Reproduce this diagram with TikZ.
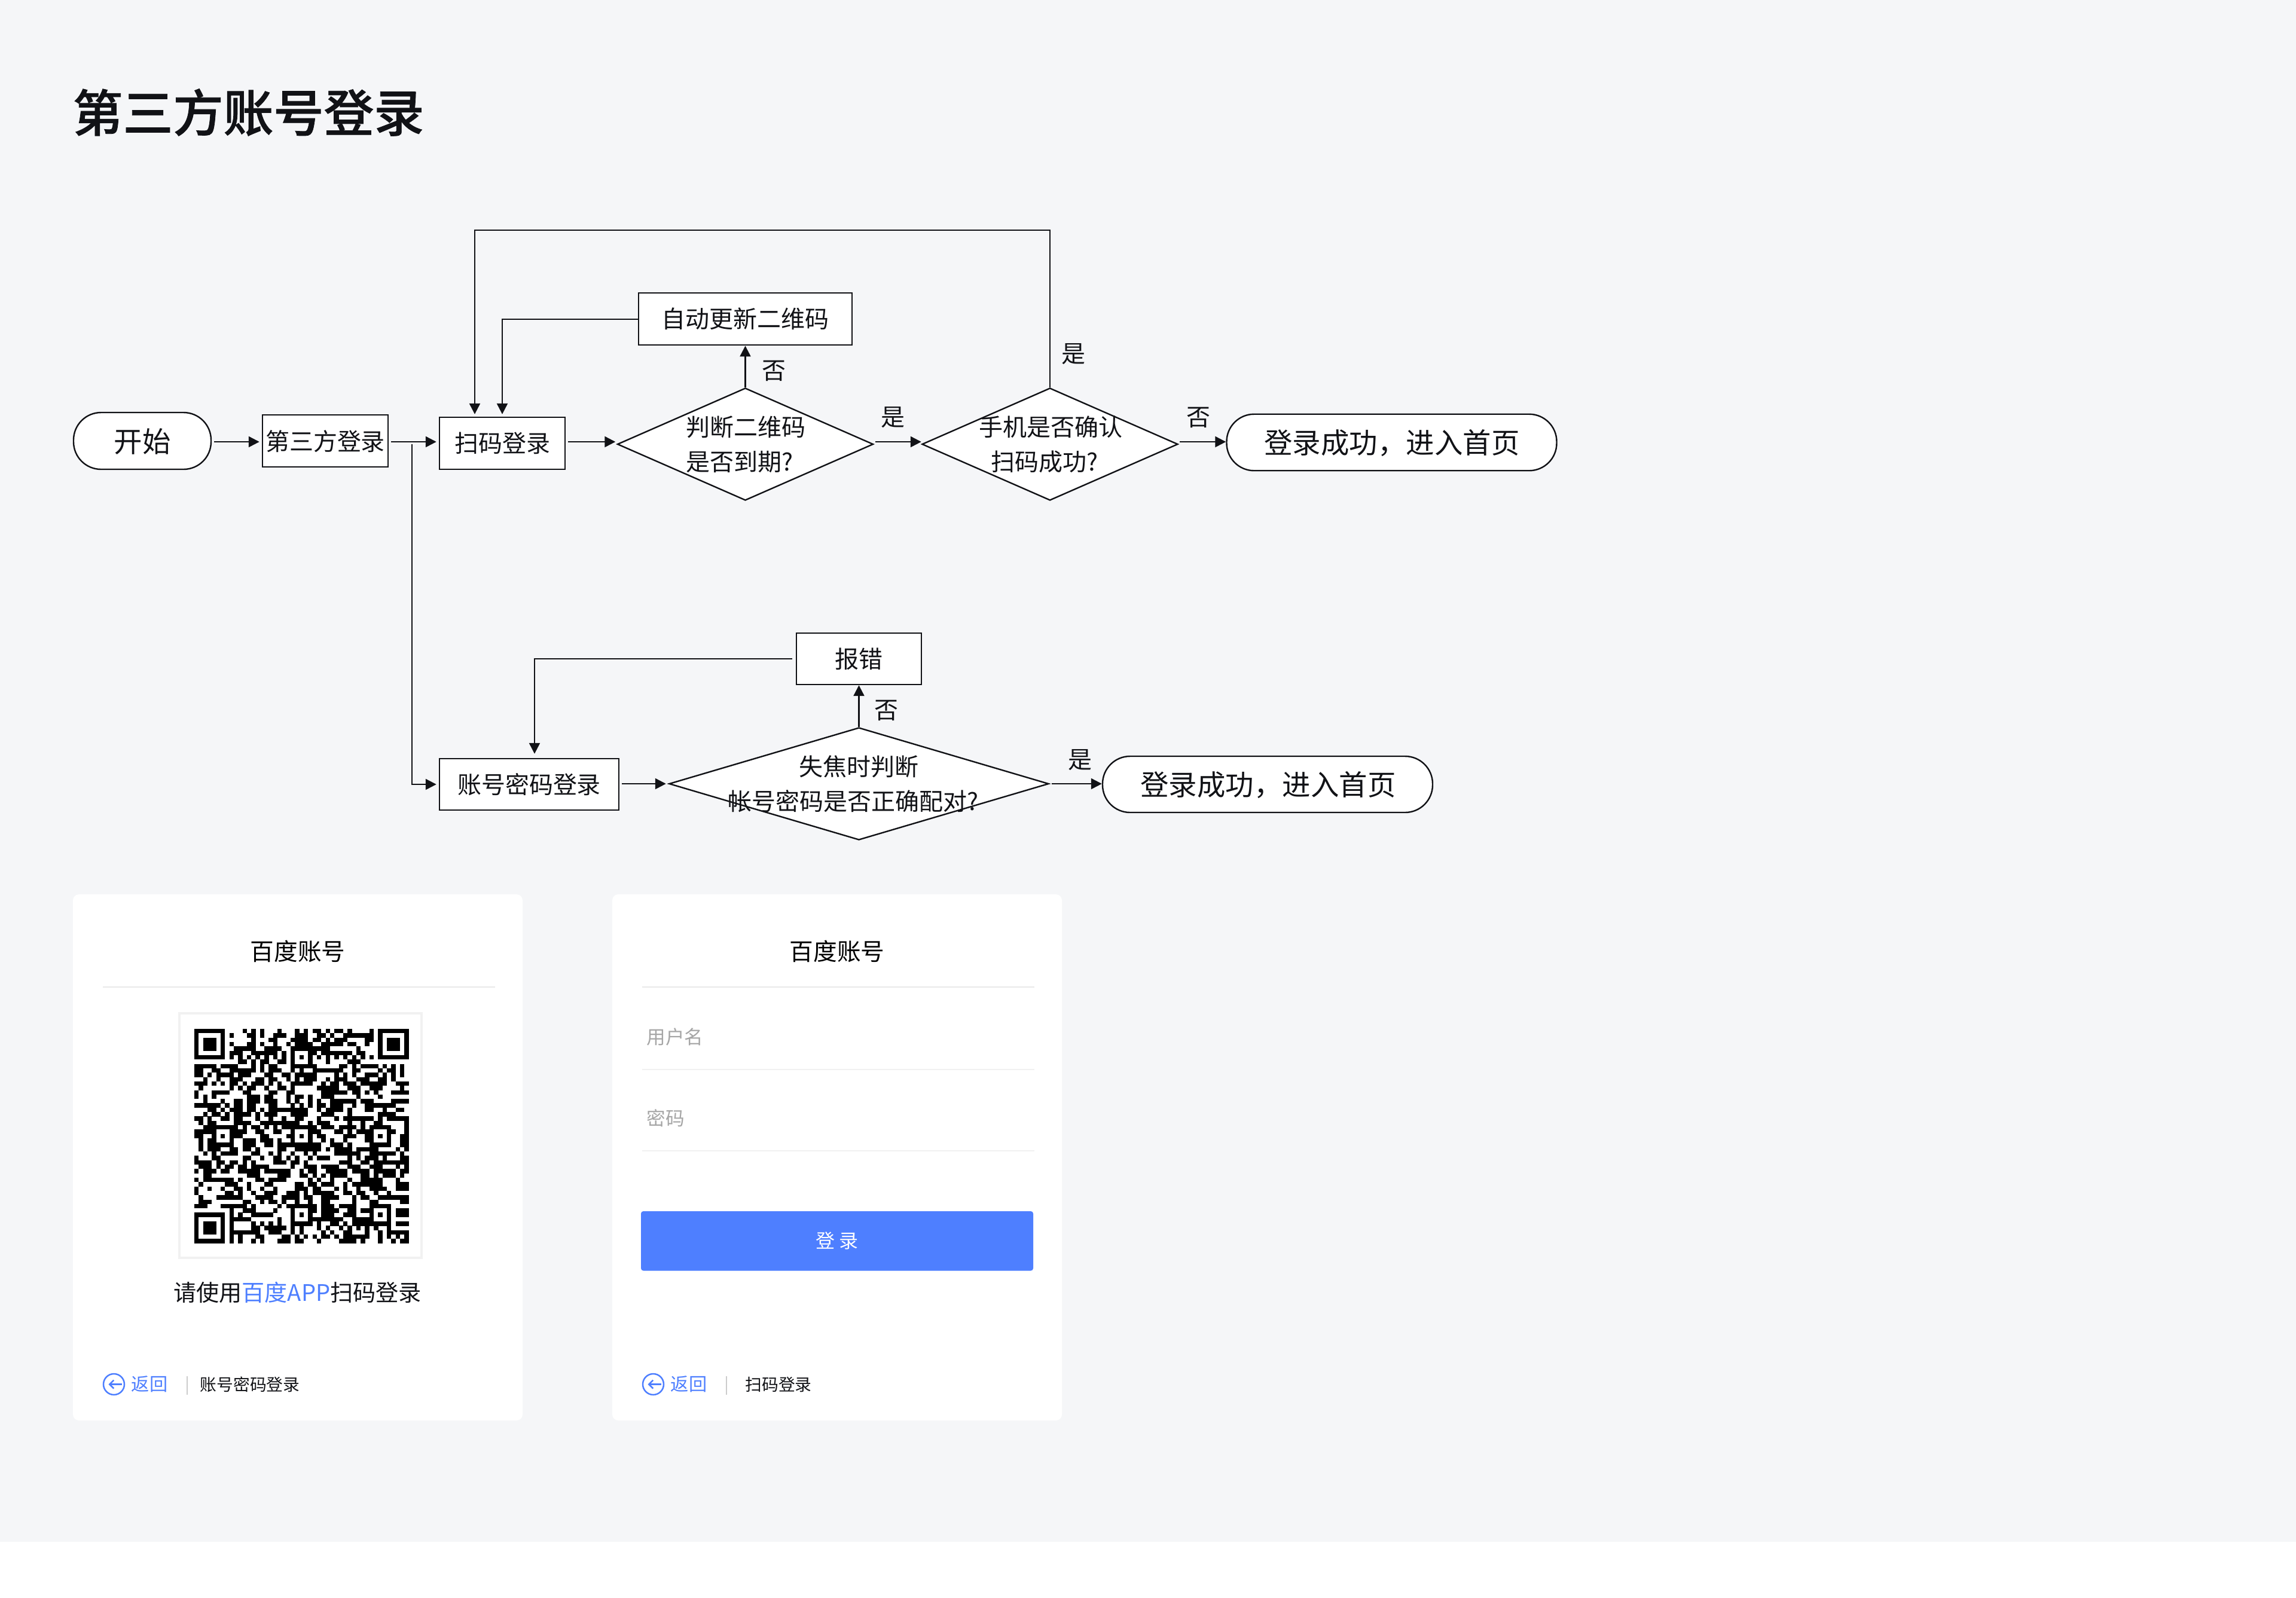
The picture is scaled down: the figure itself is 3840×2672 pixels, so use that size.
\documentclass[tikz,border=0pt]{standalone}
\usepackage{fontspec}
\setmainfont{Noto Sans CJK SC}
\newfontfamily\titlefont[UprightFont=* Medium,UprightFeatures={FakeBold=0.9}]{Noto Sans CJK SC}
\usetikzlibrary{arrows.meta,shapes.geometric}

\definecolor{pagebg}{HTML}{F5F6F8}
\definecolor{inkdark}{HTML}{111216}
\definecolor{linkblue}{HTML}{4E7FFF}
\definecolor{hairgray}{HTML}{E9E9E9}
\definecolor{softgray}{HTML}{F1F1F1}
\definecolor{hintgray}{HTML}{A6A6A6}

\tikzset{
  flowtext/.style={font=\fontsize{11.38}{16.5}\selectfont, text=inkdark, inner sep=0pt, align=center},
  bigtext/.style={font=\fontsize{13.5}{16}\selectfont, text=inkdark},
  flowbox/.style={draw=inkdark, line width=0.24mm, fill=white, inner sep=0pt},
  flowpill/.style={flowbox, rounded corners=4.6mm},
  flowdiamond/.style={diamond, draw=inkdark, line width=0.24mm, fill=white, inner sep=0pt,
    minimum width=42.8mm, minimum height=18.8mm},
  flowline/.style={draw=inkdark, line width=0.24mm},
  flowarrow/.style={flowline, -{Triangle[length=1.8mm,width=1.8mm]}, shorten <=0.4mm, shorten >=0.4mm},
  cardbox/.style={fill=white, rounded corners=1mm, inner sep=0pt, minimum width=75.2mm, minimum height=88mm},
  cardglow/.style={fill=black, opacity=0.0016, rounded corners=6mm},
  cardtitle/.style={font=\fontsize{11.3}{14}\selectfont, text=black, inner sep=0pt},
  cardrule/.style={draw=hairgray, line width=0.2mm},
  fieldrule/.style={draw=softgray, line width=0.2mm},
  fieldhint/.style={font=\fontsize{9}{11}\selectfont, text=hintgray, inner sep=0pt},
  footlink/.style={font=\fontsize{8.6}{11}\selectfont, text=linkblue, inner sep=0pt},
  foottext/.style={font=\fontsize{7.9}{10}\selectfont, text=inkdark, inner sep=0pt},
  footbar/.style={draw=black!20, line width=0.2mm},
  backicon/.style={circle, draw=linkblue, line width=0.25mm, minimum size=3.5mm, inner sep=0pt},
  backarrow/.style={draw=linkblue, line width=0.25mm, -{Straight Barb[length=0.7mm,width=1.4mm]}},
  qrdark/.style={fill=black},
}

\newcount\qrcol
\def\qrscan#1{\ifx#1.\else
  \if1#1\fill[qrdark] (\the\qrcol*7.32+325,\qrno*7.32+1721) rectangle ++(7.4,7.4);\fi
  \advance\qrcol by 1
  \expandafter\qrscan\fi}

\begin{document}
\begin{tikzpicture}[x=0.1mm,y=-0.1mm]
  \useasboundingbox (0,0) rectangle (3840,2672);
  \fill[white] (0,0) rectangle (3840,2672);
  \fill[pagebg] (0,0) rectangle (3840,2579);

  \node[font=\fontsize{23.9}{28}\titlefont\selectfont, text=inkdark, inner sep=0pt] (pagetitle) at (415.5,188) {第三方账号登录};

  % upper row
  \node[flowpill, minimum width=23mm, minimum height=9.5mm] (kaishi) at (238,737.5) {};
  \node[bigtext] (kaishitxt) at (238,739) {开始};
  \node[flowbox, minimum width=21mm, minimum height=8.7mm] (disanfang) at (544,737.5) {};
  \node[flowtext] (disanfangtxt) at (544,738) {第三方登录};
  \node[flowbox, minimum width=21mm, minimum height=8.7mm] (saoma) at (840,741.5) {};
  \node[flowtext] (saomatxt) at (840,741) {扫码登录};
  \node[flowbox, minimum width=35.7mm, minimum height=8.7mm] (gengxin) at (1246.5,533.75) {};
  \node[flowtext] (gengxintxt) at (1246.5,533) {自动更新二维码};
  \node[flowdiamond] (daoqi) at (1246.5,743) {};
  \node[flowtext] (daoqitxt) at (1247,743) {判断二维码\\是否到期?\kern2mm};
  \node[flowdiamond] (queren) at (1756,743) {};
  \node[flowtext] (querentxt) at (1757,743) {手机是否确认\\扫码成功?\kern2mm};
  \node[flowpill, minimum width=55.2mm, minimum height=9.45mm] (chenggong) at (2327.5,740) {};
  \node[bigtext] (chenggongtxt) at (2328,741) {登录成功，进入首页};

  % lower row
  \node[flowbox, minimum width=30mm, minimum height=8.6mm] (zhanghao) at (885,1312) {};
  \node[flowtext] (zhanghaotxt) at (885,1312) {账号密码登录};
  \node[flowbox, minimum width=20.9mm, minimum height=8.6mm] (baocuo) at (1436.5,1102) {};
  \node[flowtext] (baocuotxt) at (1436.5,1102) {报错};
  \node[flowdiamond, minimum width=63.5mm] (peidui) at (1436.5,1311) {};
  \node[flowtext] (peiduitxt) at (1436.5,1311) {失焦时判断\\帐号密码是否正确配对?\kern2mm};
  \node[flowpill, minimum width=55.2mm, minimum height=9.4mm] (chenggongb) at (2120,1312) {};
  \node[bigtext] (chenggongbtxt) at (2121,1313) {登录成功，进入首页};

  \coordinate (flowy) at (0,739);
  \coordinate (fork) at (689,739);
  \coordinate (bigloop) at (794,385);
  \coordinate (errdrop) at (894,1102);
  \coordinate (lowy) at (0,1311);

  \draw[flowarrow] (kaishi.east |- flowy) -- (disanfang.west |- flowy);
  \draw[flowarrow] (disanfang.east |- flowy) -- (saoma.west |- flowy);
  \draw[flowarrow] (fork) |- (zhanghao.west);
  \draw[flowarrow, shorten >=0.2mm] (saoma.east |- flowy) -- (daoqi.west |- flowy);
  \draw[flowarrow, shorten <=0.2mm, shorten >=0pt] (daoqi.east |- flowy) -- (queren.west |- flowy);
  \draw[flowarrow, shorten <=0.2mm, shorten >=0pt] (queren.east |- flowy) -- (chenggong.west |- flowy);
  \draw[flowarrow, shorten <=0pt, shorten >=0pt] (daoqi.north) -- (gengxin.south);
  \draw[flowarrow, shorten <=0pt] (gengxin.west) -| (saoma.north);
  \draw[flowarrow, shorten <=0pt] (queren.north) |- (bigloop) -- (bigloop |- saoma.north);

  \draw[flowarrow] (zhanghao.east |- lowy) -- (peidui.west);
  \draw[flowarrow, shorten <=0.2mm, shorten >=0pt] (peidui.east) ++(1.4,0) -- (chenggongb.west |- lowy);
  \draw[flowarrow, shorten <=0pt, shorten >=0pt] (peidui.north) -- (baocuo.south);
  \draw[flowarrow, shorten <=0.6mm, shorten >=0.7mm] (baocuo.west) -- (errdrop) -- (errdrop |- zhanghao.north);

  \node[flowtext] (labelb) at (1294,620) {否};
  \node[flowtext] (labelc) at (1493.5,698) {是};
  \node[flowtext] (labeld) at (1795,592) {是};
  \node[flowtext] (labele) at (2004,698) {否};
  \node[flowtext] (labelf) at (1482,1188) {否};
  \node[flowtext] (labelg) at (1806,1271) {是};

  % cards
  \foreach \grow in {1,...,10} {
    \fill[cardglow] (122-6*\grow,1496-3*\grow) rectangle (874+6*\grow,2376+7*\grow);
    \fill[cardglow] (1024-6*\grow,1496-3*\grow) rectangle (1776+6*\grow,2376+7*\grow);
  }
  \node[cardbox] (carda) at (498,1936) {};
  \node[cardbox] (cardb) at (1400,1936) {};

  \node[cardtitle] (cardatitle) at (498,1591) {百度账号};
  \draw[cardrule] (172,1651) -- (828,1651);
  \draw[draw=softgray, line width=0.4mm, fill=white] (300,1695) rectangle (705,2104);

  \foreach \qrbits [count=\qrno from 0] in {
1111111000010101000100010101101011010000101111111,
1000001010001101001110011100110100111111101000001,
1011101000000100011000111101101011100001101011101,
1011101010001101001001011110011111011001001011101,
1011101001111100111100111111111000000100001011101,
1000001011100111111010100011011111110110001000001,
1111111010101010101010101010101010101010101111111,
0000000000110101100110100010001000011100000000000,
1111101111000101011000111111000001101011110101010,
1100110011111101011100101001111111001100001011010,
1101011110111000110011011111000010101001110101010,
0010010011100011011001010111001011100111001101000,
1110101011010111010100111110010110111011111100111,
0100000010101100100110100000111110011100111000010,
1000111100011000011001100000011111101101010001111,
1010100000001110110001011010011100000100001000000,
0010001001101110111001010010100111111011100001111,
1111110101101100011000101010110111001001111111000,
0001101011101101011111111100101111010001100100110,
0010110101111010111000111100011100010000001111000,
1101001101100010010010011000100010111111101011111,
0101100001111001111111110010111000010010011000001,
0011111111010110101011111111011101111010111110001,
1111100011110011001100100011100011010111100011001,
1100101011100001100001101010110000111001101010011,
0101100010011101110100100010010100100001100010011,
0101111110011100110111111111100111010000111110011,
0101110011011010000110011111101011110111110000101,
0010101111000110010100100101000011111100111111010,
1000110000011001001101010010111000010101110100011,
1111011011010100001110110100000001110011011111111,
0111010110110111100000100111011110011100111000101,
1011101100111110111111001011001111101111011111011,
0011000000001110000111001101010111100011010111010,
1011111110100011011110000010100100010011111000100,
0100000111001000110000011011011100101111111000111,
1001001001101001001000011101100010100100111100111,
1000000110100100111001110101111100110110010010000,
0100011111100011110011110110011110001011001111111,
0111000000011001011010010010011000001000110000011,
1110001111110100000101111111011101111000111110000,
0000000010011100001000100011011110011011100010111,
1111111010100111110000101010011100111000101010111,
1000001011111000000100100011111111001111100010000,
1011101010000101010100111110100110101111111110111,
1011101010000110111110101000101001010101010010000,
1011101011111110011100101000010100110001001011111,
1000001010100011000011010101011010111111001010101,
1111111010100101000111011000100001111010001001011
  } {\qrcol=0 \expandafter\qrscan\qrbits.}

  \node[font=\fontsize{10.85}{14}\selectfont, text=inkdark, inner sep=0pt] (qrhint) at (497.5,2162) {请使用{\color{linkblue}百度APP}扫码登录};

  \node[backicon] (backa) at (190.5,2315.5) {};
  \draw[backarrow] ([xshift=1.3mm]backa.center) -- ([xshift=-0.9mm]backa.center);
  \node[footlink] (returna) at (250,2315.5) {返回};
  \draw[footbar] (313,2302) -- (313,2333);
  \node[foottext] (switcha) at (418,2315.5) {账号密码登录};

  \node[cardtitle] (cardbtitle) at (1400,1591) {百度账号};
  \draw[cardrule] (1074,1651) -- (1730,1651);
  \node[fieldhint, anchor=west] (userhint) at (1081,1734) {用户名};
  \draw[fieldrule] (1074,1789) -- (1730,1789);
  \node[fieldhint, anchor=west] (passhint) at (1081,1870) {密码};
  \draw[fieldrule] (1074,1925) -- (1730,1925);
  \node[fill=linkblue, rounded corners=0.4mm, inner sep=0pt, minimum width=65.6mm, minimum height=9.95mm,
    font=\fontsize{9.1}{11}\selectfont, text=white] (loginbtn) at (1400,2075.75) {登 录};

  \node[backicon] (backb) at (1092.5,2315.5) {};
  \draw[backarrow] ([xshift=1.3mm]backb.center) -- ([xshift=-0.9mm]backb.center);
  \node[footlink] (returnb) at (1152,2315.5) {返回};
  \draw[footbar] (1215,2302) -- (1215,2333);
  \node[foottext] (switchb) at (1302,2315.5) {扫码登录};
\end{tikzpicture}
\end{document}
